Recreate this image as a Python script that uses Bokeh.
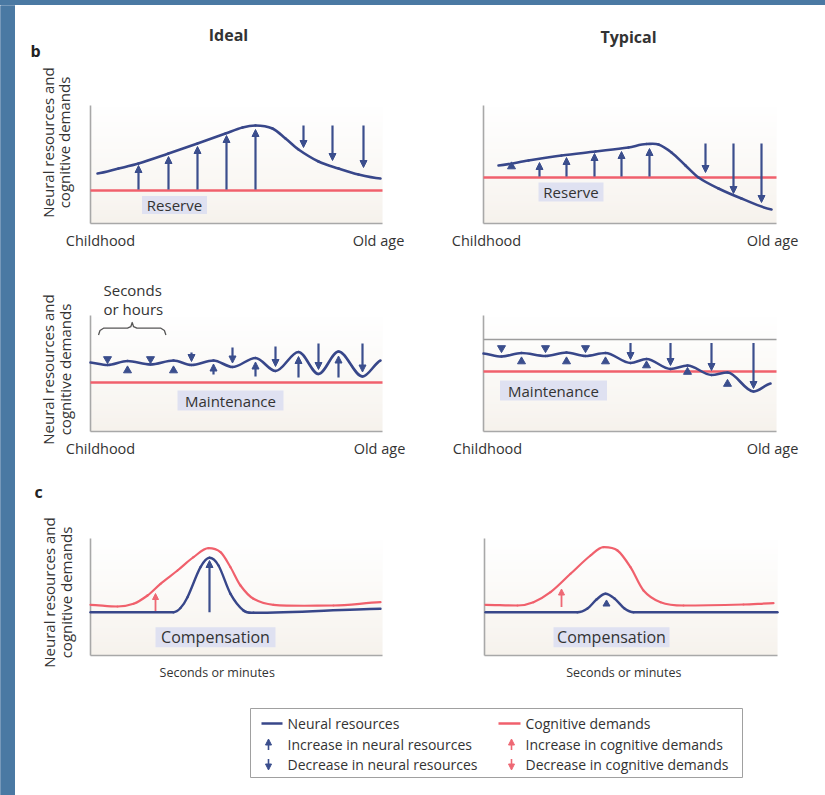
import numpy as np
from bokeh.plotting import figure
from bokeh.models import Range1d, Arrow, NormalHead, ColumnDataSource, Div
from bokeh.layouts import row, column
from bokeh.embed import file_html
from bokeh.resources import INLINE
from bokeh.core.properties import value

# ---------------------------------------------------------------------------
# DATA  (schematic units: x = time along the axis, y = level above the axis)
# ---------------------------------------------------------------------------
# b / Ideal / Reserve
ideal_res_t      = [7, 28, 48, 78, 107, 135, 152, 165, 182, 195, 208, 228, 248, 268, 290]
ideal_res_neural = [50, 55, 60, 70, 80, 90, 96, 98, 95, 85, 74, 62, 55, 49, 45]
ideal_res_demand = 33
ideal_res_up_t    = [48, 78, 107, 136, 165]
ideal_res_up_from = [34, 34, 34, 34, 34]
ideal_res_up_to   = [58, 67, 77, 88, 94]
ideal_res_dn_t    = [213, 242, 273]
ideal_res_dn_from = [98, 98, 98]
ideal_res_dn_to   = [76, 63, 56]

# b / Typical / Reserve
typ_res_t      = [15, 45, 78, 112, 145, 163, 175, 188, 202, 215, 235, 258, 288]
typ_res_neural = [58, 63, 68, 72, 76, 79.5, 79, 71, 58, 46, 35, 25, 14]
typ_res_demand = 46
typ_res_tri_up_t = [28]
typ_res_tri_up_y = [57]
typ_res_up_t    = [56, 83, 111, 138, 166]
typ_res_up_from = [47, 47, 47, 47, 47]
typ_res_up_to   = [61, 66, 70, 72, 75]
typ_res_dn_t    = [222, 250, 278]
typ_res_dn_from = [80, 80, 80]
typ_res_dn_to   = [51, 30, 21]

# b / Ideal / Maintenance
ideal_mnt_t      = [0, 17, 37, 60, 83, 101, 123, 142, 165, 185, 208, 228, 248, 272, 290]
ideal_mnt_neural = [69, 66.5, 70.5, 67, 71, 66.5, 71, 64.5, 73.5, 60.5, 79.5, 57.5, 80, 55, 71]
ideal_mnt_demand = 49
ideal_mnt_tri_dn_t = [17, 60]
ideal_mnt_tri_dn_y = [72.5, 72.5]
ideal_mnt_tri_up_t = [37, 83]
ideal_mnt_tri_up_y = [61, 61]
ideal_mnt_dn_t    = [101, 142, 185, 228, 272]
ideal_mnt_dn_from = [79, 84, 85, 88, 88]
ideal_mnt_dn_to   = [70, 68.5, 65, 62, 59.5]
ideal_mnt_up_t    = [123, 165, 208, 248]
ideal_mnt_up_from = [57, 55, 54, 54]
ideal_mnt_up_to   = [67.5, 69.5, 75, 75.5]
brace_x = [8, 9.5, 13, 37, 40.3, 41.7, 43.1, 46.4, 70.4, 73.9, 75.4]
brace_y = [96.5, 101, 103.3, 103.3, 104.8, 109, 104.8, 103.3, 103.3, 101, 96.5]

# b / Typical / Maintenance
typ_mnt_t      = [0, 18, 38, 62, 83, 102, 122, 147, 163, 187, 204, 228, 244, 270, 287]
typ_mnt_neural = [78, 75, 78.5, 75.5, 79, 75.5, 78.5, 68.5, 72.5, 62.5, 66, 56.5, 59, 40, 48]
typ_mnt_demand = 60
typ_mnt_ceiling = 92
typ_mnt_tri_dn_t = [18, 62, 102]
typ_mnt_tri_dn_y = [83.5, 83.5, 83.5]
typ_mnt_tri_up_t = [38, 83, 122, 163, 204, 244]
typ_mnt_tri_up_y = [70, 70, 70, 66, 59.5, 47.5]
typ_mnt_dn_t    = [147, 187, 228, 270]
typ_mnt_dn_from = [88.5, 88.5, 88.5, 88.5]
typ_mnt_dn_to   = [72, 66, 61, 43]

# c / Ideal / Compensation
ideal_cmp_dem_t  = [0, 27, 43, 57, 70, 87, 103, 118, 130, 140, 150, 163, 183, 243, 290]
ideal_cmp_demand = [50.7, 49, 51.7, 60, 71.7, 85, 98.3, 107.3, 103.3, 88.3, 70, 56.7, 50.7, 50, 53.3]
ideal_cmp_neu_t  = [0, 83, 90, 97, 110, 119, 128, 140, 153, 163, 290]
ideal_cmp_neural = [43.3, 43.3, 47.5, 58.3, 88.3, 97.7, 90, 61.7, 45, 42.7, 46.7]
ideal_cmp_red_up = (65, 44.5, 62)
ideal_cmp_blue_up = (119, 43.3, 95)

# c / Typical / Compensation
typ_cmp_dem_t  = [1, 33, 49, 66, 86, 106, 119, 133, 146, 159, 176, 199, 259, 289]
typ_cmp_demand = [50.7, 50, 53.3, 63.3, 81.7, 100, 108.3, 105, 88.3, 65, 53.3, 50, 51, 52.3]
typ_cmp_neu_t  = [1, 93, 103, 112, 121, 130, 140, 149, 293]
typ_cmp_neural = [43.3, 43.3, 47, 56, 61.7, 57, 47, 43.3, 43.3]
typ_cmp_red_up = (77, 48.5, 66.5)
typ_cmp_tri_up = (122, 51.5)

legend_left  = ["Neural resources", "Increase in neural resources", "Decrease in neural resources"]
legend_right = ["Cognitive demands", "Increase in cognitive demands", "Decrease in cognitive demands"]

# ---------------------------------------------------------------------------
FONT = "Open Sans"
BLUE = "#38478a"
BLUE_ARROW = "#3b4e8d"
RED = "#f0606c"
RED_ARROW = "#ee6874"
AXIS_C = "#a8a8a8"
TEXT_C = "#333333"
BOX_C = "#dfe1f1"
FRAME_C = "#4a79a3"


def make_tile(w, h, xr, yr):
    p = figure(width=w, height=h, x_range=Range1d(*xr), y_range=Range1d(*yr),
               output_backend="svg", toolbar_location=None, min_border=0,
               x_axis_location=None, y_axis_location=None, title=None)
    p.xgrid.visible = False
    p.ygrid.visible = False
    p.outline_line_color = None
    p.background_fill_color = "white"
    p.border_fill_color = "white"
    return p


def panel_frame(p, W, H):
    n = 64
    img = np.empty((n, 1), dtype=np.uint32)
    view = img.view(dtype=np.uint8).reshape((n, 1, 4))
    bot = np.array([246, 242, 236], float)
    top = np.array([255, 255, 255], float)
    for i in range(n):
        f = (i / (n - 1)) ** 0.8
        c = bot + (top - bot) * f
        view[i, 0, 0:3] = c.astype(np.uint8)
        view[i, 0, 3] = 255
    p.image_rgba(image=[img], x=0, y=0, dw=W, dh=H)
    p.segment(x0=[0, 0], y0=[0, 0], x1=[0, W], y1=[H, 0],
              line_color=AXIS_C, line_width=1.6)


def smooth(p, xs, ys, color, width):
    xs = np.asarray(xs, float)
    ys = np.asarray(ys, float)
    n = len(xs)
    s = np.zeros(n)
    for i in range(1, n - 1):
        if (ys[i] >= ys[i - 1] and ys[i] >= ys[i + 1]) or (ys[i] <= ys[i - 1] and ys[i] <= ys[i + 1]):
            s[i] = 0.0
        else:
            s[i] = (ys[i + 1] - ys[i - 1]) / (xs[i + 1] - xs[i - 1])
    s[0] = (ys[1] - ys[0]) / (xs[1] - xs[0]) * 0.5
    s[-1] = (ys[-1] - ys[-2]) / (xs[-1] - xs[-2]) * 0.5
    h = xs[1:] - xs[:-1]
    p.bezier(x0=xs[:-1], y0=ys[:-1], x1=xs[1:], y1=ys[1:],
             cx0=xs[:-1] + h / 3, cy0=ys[:-1] + s[:-1] * h / 3,
             cx1=xs[1:] - h / 3, cy1=ys[1:] - s[1:] * h / 3,
             line_color=color, line_width=width, line_cap="round")


def arrows(p, xs, y0, y1, color=BLUE_ARROW, width=2.2, size=7):
    src = ColumnDataSource(dict(x=list(xs), y0=list(y0), y1=list(y1)))
    p.add_layout(Arrow(end=NormalHead(size=size, fill_color=color, line_color=color, line_width=1),
                       x_start="x", y_start="y0", x_end="x", y_end="y1",
                       source=src, line_color=color, line_width=width))


def tris(p, xs, ys, up, color=BLUE_ARROW, size=8):
    p.scatter(x=list(xs), y=list(ys), marker="triangle" if up else "inverted_triangle",
              size=size, fill_color=color, line_color=color)


def label(p, x, y, t, size="14.5px", align="center", bold=False, angle=0.0, color=TEXT_C):
    p.text(x=[x], y=[y], text=[t], text_font=value(FONT), text_font_size=size,
           text_font_style="bold" if bold else "normal", text_color=color,
           text_align=align, text_baseline="middle", angle=angle)


def tag(p, x, y, w, h, t, size):
    p.rect(x=[x], y=[y], width=[w], height=[h], fill_color=BOX_C, line_color=None)
    label(p, x, y, t, size=size)


def ylab(p, xs, y):
    label(p, xs[0], y, "Neural resources and", size="15px", angle=np.pi / 2)
    label(p, xs[1], y, "cognitive demands", size="15px", angle=np.pi / 2)


# ---------------- top row: Reserve ----------------
tl = make_tile(405, 250, (-75, 330), (-32, 218))
panel_frame(tl, 292, 118)
tl.line(x=[0, 292], y=[ideal_res_demand] * 2, line_color=RED, line_width=2.5)
smooth(tl, ideal_res_t, ideal_res_neural, BLUE, 2.6)
arrows(tl, ideal_res_up_t, ideal_res_up_from, ideal_res_up_to)
arrows(tl, ideal_res_dn_t, ideal_res_dn_from, ideal_res_dn_to)
tag(tl, 84, 18.5, 65, 18, "Reserve", "15px")
label(tl, 10, -17, "Childhood")
label(tl, 288, -17, "Old age")
label(tl, 138, 189, "Ideal", size="16px", bold=True)
label(tl, -55, 173, "b", size="16px", bold=True, color="#222222")
ylab(tl, (-43, -26.5), 81)

tr = make_tile(405, 250, (-63, 342), (-32, 218))
panel_frame(tr, 293, 118)
tr.line(x=[0, 293], y=[typ_res_demand] * 2, line_color=RED, line_width=2.5)
smooth(tr, typ_res_t, typ_res_neural, BLUE, 2.6)
tris(tr, typ_res_tri_up_t, typ_res_tri_up_y, True)
arrows(tr, typ_res_up_t, typ_res_up_from, typ_res_up_to)
arrows(tr, typ_res_dn_t, typ_res_dn_from, typ_res_dn_to)
tag(tr, 87.5, 31.5, 65, 19, "Reserve", "15px")
label(tr, 3, -17, "Childhood")
label(tr, 289, -17, "Old age")
label(tr, 145, 187, "Typical", size="16px", bold=True)

# ---------------- middle row: Maintenance ----------------
ml = make_tile(405, 210, (-75, 330), (-34, 176))
panel_frame(ml, 292, 116)
ml.line(x=[0, 292], y=[ideal_mnt_demand] * 2, line_color=RED, line_width=2.5)
smooth(ml, ideal_mnt_t, ideal_mnt_neural, BLUE, 2.6)
tris(ml, ideal_mnt_tri_dn_t, ideal_mnt_tri_dn_y, False)
tris(ml, ideal_mnt_tri_up_t, ideal_mnt_tri_up_y, True)
arrows(ml, ideal_mnt_dn_t, ideal_mnt_dn_from, ideal_mnt_dn_to)
arrows(ml, ideal_mnt_up_t, ideal_mnt_up_from, ideal_mnt_up_to)
ml.line(x=brace_x, y=brace_y, line_color="#555555", line_width=1.3, line_join="round")
label(ml, 13, 142, "Seconds", size="15px", align="left")
label(ml, 13, 123, "or hours", size="15px", align="left")
tag(ml, 140, 31, 106, 20, "Maintenance", "15px")
label(ml, 10, -17, "Childhood")
label(ml, 289, -17, "Old age")
ylab(ml, (-43, -26), 62)

mr = make_tile(405, 210, (-63, 342), (-34, 176))
panel_frame(mr, 293, 116)
mr.line(x=[0, 293], y=[typ_mnt_ceiling] * 2, line_color="#9c9c9c", line_width=1.5)
mr.line(x=[0, 293], y=[typ_mnt_demand] * 2, line_color=RED, line_width=2.5)
smooth(mr, typ_mnt_t, typ_mnt_neural, BLUE, 2.6)
tris(mr, typ_mnt_tri_dn_t, typ_mnt_tri_dn_y, False)
tris(mr, typ_mnt_tri_up_t, typ_mnt_tri_up_y, True)
arrows(mr, typ_mnt_dn_t, typ_mnt_dn_from, typ_mnt_dn_to)
tag(mr, 70, 41, 107, 20, "Maintenance", "15px")
label(mr, 4, -17, "Childhood")
label(mr, 289, -17, "Old age")

# ---------------- bottom row: Compensation ----------------
bl = make_tile(405, 225, (-75, 330), (-35, 190))
panel_frame(bl, 292, 117)
smooth(bl, ideal_cmp_dem_t, ideal_cmp_demand, RED, 2.2)
smooth(bl, ideal_cmp_neu_t, ideal_cmp_neural, BLUE, 2.4)
arrows(bl, [ideal_cmp_red_up[0]], [ideal_cmp_red_up[1]], [ideal_cmp_red_up[2]], color=RED_ARROW, width=1.8, size=6)
arrows(bl, [ideal_cmp_blue_up[0]], [ideal_cmp_blue_up[1]], [ideal_cmp_blue_up[2]])
tag(bl, 125, 18.3, 120, 20, "Compensation", "16px")
label(bl, 126.7, -16.7, "Seconds or minutes", size="12.5px")
label(bl, -52, 164, "c", size="16px", bold=True, color="#222222")
ylab(bl, (-42, -25), 63)

br = make_tile(405, 225, (-64, 341), (-35, 190))
panel_frame(br, 293, 117)
smooth(br, typ_cmp_dem_t, typ_cmp_demand, RED, 2.2)
smooth(br, typ_cmp_neu_t, typ_cmp_neural, BLUE, 2.4)
arrows(br, [typ_cmp_red_up[0]], [typ_cmp_red_up[1]], [typ_cmp_red_up[2]], color=RED_ARROW, width=1.8, size=6)
tris(br, [typ_cmp_tri_up[0]], [typ_cmp_tri_up[1]], True, size=7)
tag(br, 127, 18.3, 116, 20, "Compensation", "16px")
label(br, 139.3, -16.7, "Seconds or minutes", size="12.5px")

# ---------------- legend ----------------
lg = make_tile(810, 105, (-235, 575), (-18, 87))
lg.quad(left=[0], right=[492], bottom=[0], top=[69], fill_color=None,
        line_color="#a0a0a0", line_width=1)
rows_y = [54, 33, 13]
lg.line(x=[11, 32], y=[rows_y[0]] * 2, line_color=BLUE, line_width=2.5)
arrows(lg, [18], [rows_y[1] - 5.5], [rows_y[1] + 5.5], color=BLUE_ARROW, width=1.6, size=6)
arrows(lg, [18], [rows_y[2] + 5.5], [rows_y[2] - 5.5], color=BLUE_ARROW, width=1.6, size=6)
lg.line(x=[248, 270], y=[rows_y[0]] * 2, line_color=RED, line_width=2.5)
arrows(lg, [261], [rows_y[1] - 5.5], [rows_y[1] + 5.5], color=RED_ARROW, width=1.6, size=6)
arrows(lg, [261], [rows_y[2] + 5.5], [rows_y[2] - 5.5], color=RED_ARROW, width=1.6, size=6)
for yy, tl_txt, tr_txt in zip(rows_y, legend_left, legend_right):
    label(lg, 37, yy, tl_txt, size="14px", align="left")
    label(lg, 275, yy, tr_txt, size="14px", align="left")

# ---------------- blue frame (top band + left strip) ----------------
top_band = Div(text="", width=825, height=5, margin=0,
               styles={"background-color": FRAME_C})

left_strip = figure(width=15, height=790, x_range=Range1d(0, 1), y_range=Range1d(0, 1),
                    output_backend="svg", toolbar_location=None, min_border=0,
                    x_axis_location=None, y_axis_location=None, title=None)
left_strip.xgrid.visible = False
left_strip.ygrid.visible = False
left_strip.outline_line_color = None
left_strip.background_fill_color = FRAME_C
left_strip.border_fill_color = FRAME_C
left_strip.quad(left=[-1], right=[2], bottom=[-1], top=[2], fill_color=FRAME_C, line_color=None)

body = column(row(tl, tr), row(ml, mr), row(bl, br), lg)
page = column(top_band, row(left_strip, body))

open("out.html", "w").write(file_html(page, INLINE))
